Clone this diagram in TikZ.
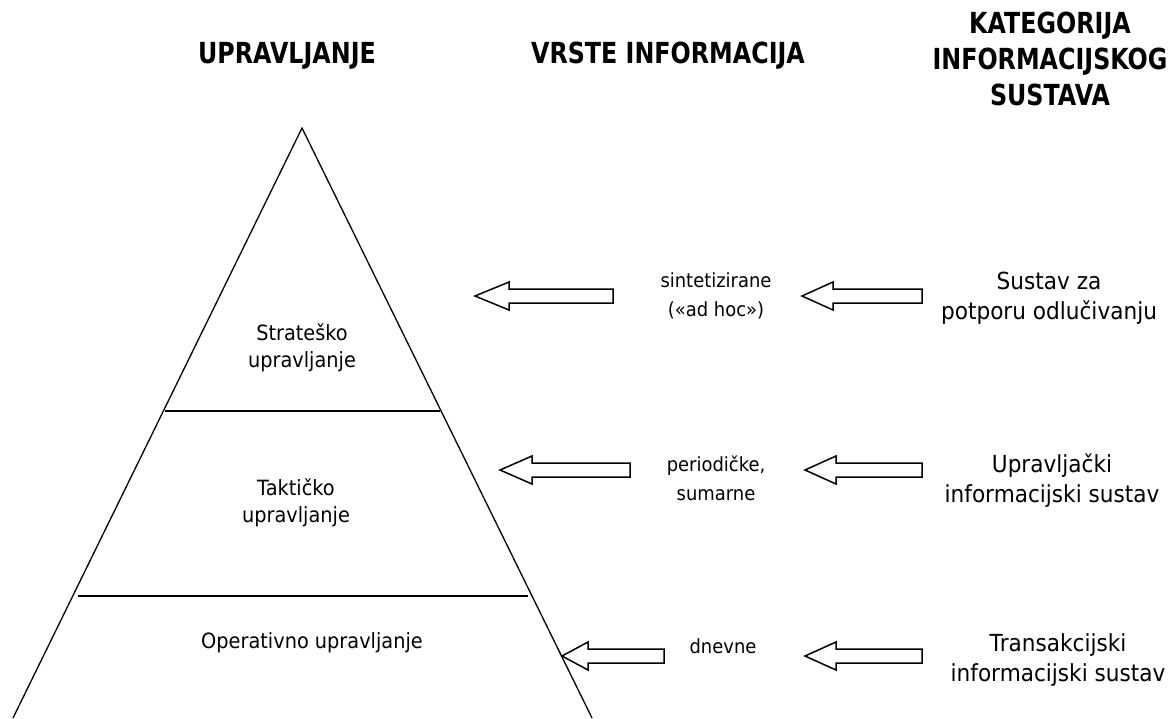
\documentclass[tikz,border=0pt]{standalone}
\usepackage{fontspec}
\setmainfont{DejaVu Sans}
\newfontfamily\hdrfont{DejaVu Sans}[FakeStretch=0.82]
\newfontfamily\bodyfont{DejaVu Sans}[FakeStretch=0.92]
\begin{document}
\begin{tikzpicture}[x=1pt,y=-1pt,
  hdr/.style={font=\hdrfont\bfseries\fontsize{29}{36}\selectfont, align=center, inner sep=0pt},
  lvl/.style={font=\bodyfont\fontsize{21}{27}\selectfont, align=center, inner sep=0pt},
  mid/.style={font=\bodyfont\fontsize{19.5}{29}\selectfont, align=center, inner sep=0pt},
  cat/.style={font=\bodyfont\fontsize{23.5}{30}\selectfont, align=center, inner sep=0pt},
  edge/.style={line width=1.3pt},
  pics/blockarrow/.style 2 args={code={
    \draw[line width=1.5pt, fill=white, line join=miter]
      (0,0) -- (#2,-14) -- (#2,-7) -- (#1,-7) -- (#1,7) -- (#2,7) -- (#2,14) -- cycle;}}
]
\useasboundingbox (0,0) rectangle (1172,718);
% pyramid
\coordinate (apex) at (302,128);
\coordinate (bl) at (13,718);
\coordinate (br) at (592,718);
\draw[edge] (bl) -- (apex) -- (br);
\coordinate (l1a) at (165,411);
\coordinate (l1b) at (440,411);
\coordinate (l2a) at (78,596);
\coordinate (l2b) at (528,596);
\draw[edge] (l1a) -- (l1b);
\draw[line width=1.9pt] (l2a) -- (l2b);
% headers
\node[hdr] (h1) at (287,56) {UPRAVLJANJE};
\node[hdr] (h2) at (668,56) {VRSTE INFORMACIJA};
\node[hdr] (h3) at (1050,59) {KATEGORIJA\\INFORMACIJSKOG\\SUSTAVA};
% levels
\node[lvl] (s1) at (302,348) {Strateško\\upravljanje};
\node[lvl] (s2) at (296,503) {Taktičko\\upravljanje};
\node[lvl] (s3) at (312,643) {Operativno upravljanje};
% info types
\node[mid] (m1) at (716,296) {sintetizirane\\(«ad hoc»)};
\node[mid] (m2) at (716,478) {periodičke,\\sumarne};
\node[mid] (m3) at (723,646) {dnevne};
% categories
\node[cat] (c1) at (1049,298) {Sustav za\\potporu odlučivanju};
\node[cat] (c2) at (1052,481) {Upravljački\\informacijski sustav};
\node[cat] (c3) at (1058,660) {Transakcijski\\informacijski sustav};
% block arrows
\pic at (475,296) {blockarrow={138}{34}};
\pic at (802,296) {blockarrow={120}{31}};
\pic at (500,470) {blockarrow={130}{32}};
\pic at (805,470) {blockarrow={117}{31}};
\pic at (562,656) {blockarrow={102}{26}};
\pic at (805,656) {blockarrow={117}{31}};
\end{tikzpicture}
\end{document}
